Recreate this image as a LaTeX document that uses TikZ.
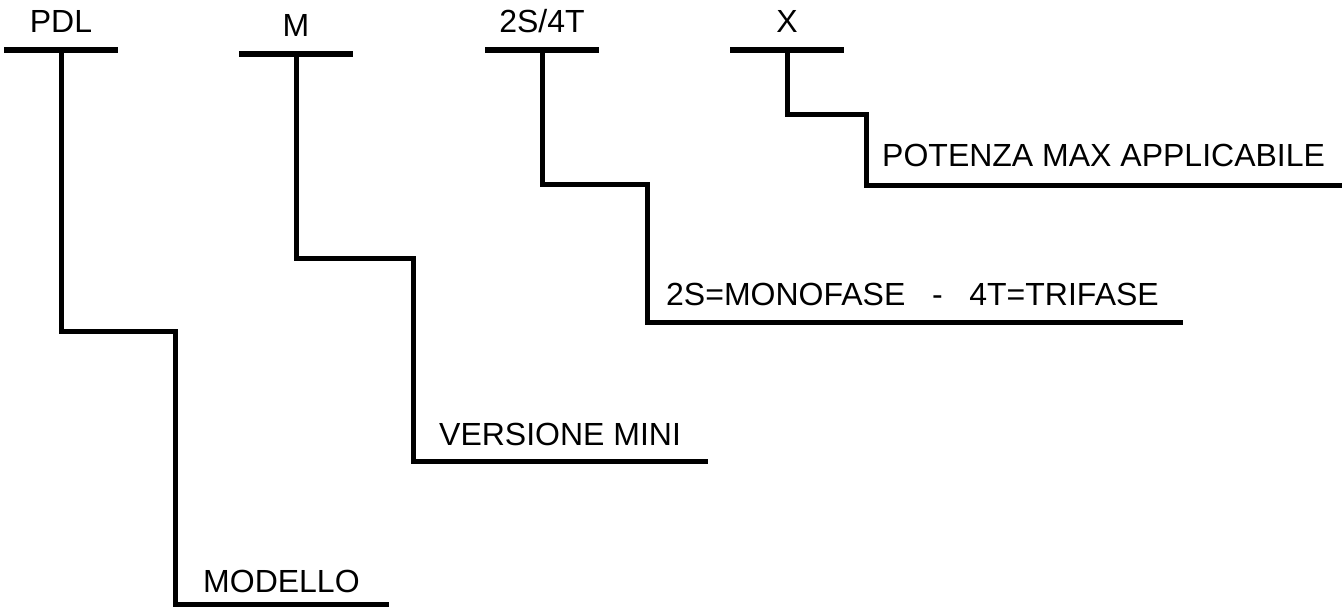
\documentclass[tikz,border=0pt]{standalone}
\usepackage{fontspec}
\setmainfont{Liberation Sans}
\usepackage{tikz}
\usetikzlibrary{positioning}

\begin{document}
\begin{tikzpicture}[x=1pt, y=-1pt,
    bar/.style={fill=black, rectangle, minimum width=114pt, minimum height=6pt, inner sep=0pt},
    code/.style={inner sep=0pt, font=\fontsize{32}{36}\selectfont},
    note/.style={inner sep=0pt, anchor=base west, font=\fontsize{32}{36}\selectfont},
    link/.style={line width=5pt}]
      \useasboundingbox (0,0) rectangle (1342,607);

      % codice
      \node[bar] (pdlbar) at (61,50) {};
      \node[bar] (mbar) at (296,54) {};
      \node[bar] (tsbar) at (542,50) {};
      \node[bar] (xbar) at (787,50) {};

      \node[code, above=14pt of pdlbar] (pdl) {PDL};
      \node[code, above=14pt of mbar] (m) {M};
      \node[code, above=14pt of tsbar] (ts) {2S/4T};
      \node[code, above=14pt of xbar] (x) {X};

      % descrizioni
      \node[note] (modello) at (203,592) {MODELLO};
      \node[note] (versione) at (439,445) {VERSIONE MINI};
      \node[note] (fase) at (666,305) {2S=MONOFASE\ \ \ -\ \ \ 4T=TRIFASE};
      \node[note] (potenza) at (882,167) {POTENZA MAX APPLICABILE};

      \coordinate (pdlstep) at (175,331);
      \coordinate (mstep) at (413,258);
      \coordinate (tsstep) at (647,185);
      \coordinate (xstep) at (866,115);

      \coordinate (modelloend) at (389,604);
      \coordinate (versioneend) at (708,461);
      \coordinate (faseend) at (1183,322);
      \coordinate (potenzaend) at (1342,186);

      \draw[link] (pdlbar.center) |- (pdlstep) |- (modelloend);
      \draw[link] (mbar.center) |- (mstep) |- (versioneend);
      \draw[link] (tsbar.center) |- (tsstep) |- (faseend);
      \draw[link] (xbar.center) |- (xstep) |- (potenzaend);
    \end{tikzpicture}
\end{document}
